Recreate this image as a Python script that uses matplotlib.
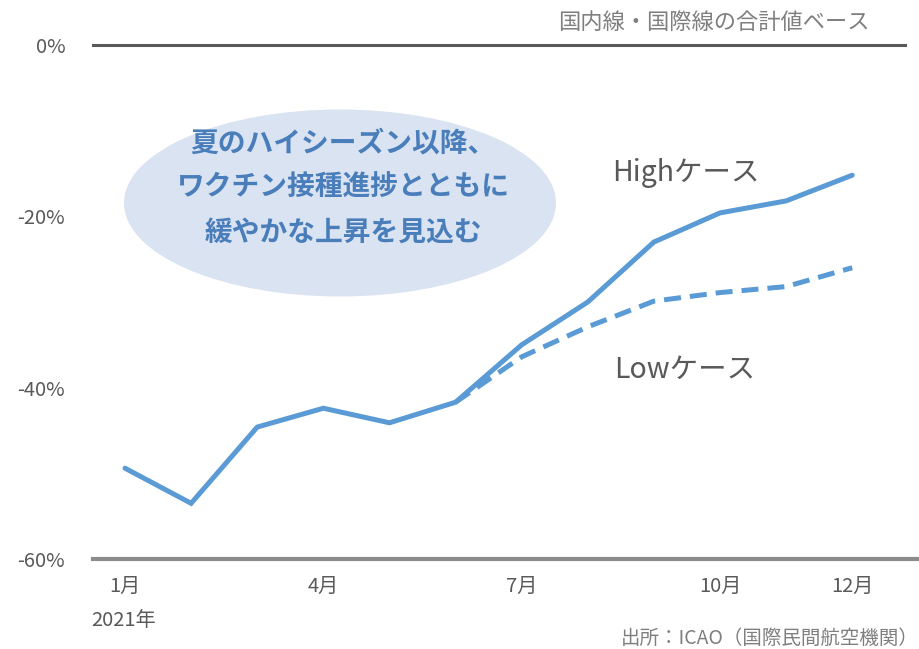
import matplotlib
matplotlib.use('Agg')
import matplotlib.pyplot as plt
from matplotlib.patches import Ellipse

plt.rcParams['font.family'] = ['Noto Sans CJK JP', 'DejaVu Sans']

# 月次の旅客需要（2019年同月比、%）
months = list(range(12))
high_case = [-49.4, -53.5, -44.6, -42.4, -44.1, -41.7, -35.0, -30.0, -23.0, -19.6, -18.2, -15.2]
low_months = [5, 6, 7, 8, 9, 10, 11]
low_case = [-41.7, -36.4, -32.9, -29.9, -28.9, -28.2, -26.0]

tick_pos = [0, 3, 6, 9, 11]
tick_labels = ['1月', '4月', '7月', '10月', '12月']
y_ticks = [0, -20, -40, -60]

line_color = '#5b9bd5'
text_gray = '#595959'

fig = plt.figure(figsize=(9.19, 6.49), dpi=100)
ax = fig.add_axes([93 / 919, 90 / 649, 826 / 919, 514 / 649])
ax.set_xlim(-0.484, 12.01)
ax.set_ylim(-60, 0)

for s in ax.spines.values():
    s.set_visible(False)

ax.axhline(0, xmin=0, xmax=0.983, color='#595959', lw=2.2, clip_on=False)
ax.axhline(-60, xmin=0, xmax=1.0, color='#8c8c8c', lw=3, clip_on=False)

ax.plot(low_months, low_case, color=line_color, lw=3.6, dashes=(3.4, 1.8), zorder=3)
ax.plot(months, high_case, color=line_color, lw=3.6, solid_capstyle='round',
        solid_joinstyle='miter', zorder=4)

ax.set_xticks(tick_pos)
ax.set_xticklabels(tick_labels, fontsize=14.5, color=text_gray)
ax.set_yticks(y_ticks)
ax.set_yticklabels([f'{v}%' for v in y_ticks], fontsize=14.5, color=text_gray)
ax.tick_params(axis='x', length=0, pad=12)
ax.tick_params(axis='y', length=0, pad=20)

# 吹き出し
ell = Ellipse((340 / 919, 1 - 203 / 649), 432 / 919, 187 / 649,
              transform=fig.transFigure, facecolor='#dae3f1', edgecolor='none', zorder=1)
fig.patches.append(ell)
fig.text(343 / 919, 1 - 188 / 649,
         '夏のハイシーズン以降、\nワクチン接種進捗とともに\n緩やかな上昇を見込む',
         ha='center', va='center', fontsize=20, fontweight='bold',
         color='#4a7ebb', linespacing=1.75)

fig.text(686 / 919, 1 - 173 / 649, 'Highケース', ha='center', va='center',
         fontsize=20.5, color=text_gray)
fig.text(685 / 919, 1 - 370 / 649, 'Lowケース', ha='center', va='center',
         fontsize=20.5, color=text_gray)

fig.text(870 / 919, 1 - 22 / 649, '国内線・国際線の合計値ベース', ha='right', va='center',
         fontsize=16, color='#7f7f7f')
fig.text(124 / 919, 1 - 621 / 649, '2021年', ha='center', va='center',
         fontsize=14.5, color=text_gray)
fig.text(919 / 919, 1 - 638 / 649, '出所：ICAO（国際民間航空機関）', ha='right', va='center',
         fontsize=14, color='#7f7f7f')

fig.savefig('out.png', dpi=100)
